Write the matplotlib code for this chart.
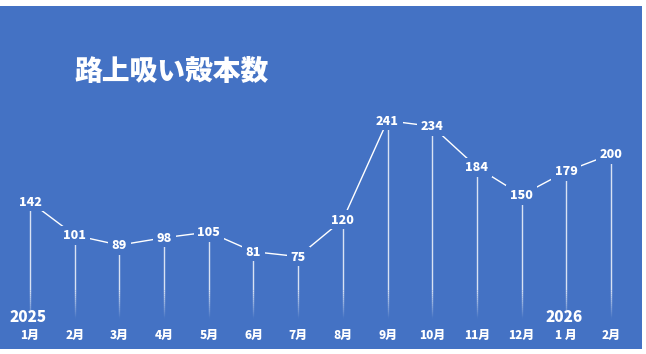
import numpy as np
import matplotlib
matplotlib.use("Agg")
import matplotlib.pyplot as plt
from matplotlib.collections import LineCollection
from matplotlib.patches import Rectangle
import matplotlib.transforms as mtransforms

plt.rcParams['font.family'] = ['Noto Sans CJK JP', 'DejaVu Sans']

title = "路上吸い殻本数"
months = ["1月", "2月", "3月", "4月", "5月", "6月", "7月",
          "8月", "9月", "10月", "11月", "12月", "1 月", "2月"]
counts = [142, 101, 89, 98, 105, 81, 75, 120, 241, 234, 184, 150, 179, 200]
years = ["2025", "2026"]
year_start_idx = [0, 12]

BG = "#4472C4"
FG = "white"

fig = plt.figure(figsize=(6.46, 3.54), dpi=100)
fig.patch.set_facecolor("white")

# blue panel behind everything
fig.patches.append(Rectangle((0, 5 / 354), 642 / 646, 343 / 354,
                             transform=fig.transFigure, facecolor=BG,
                             edgecolor="none", zorder=-10))

ax = fig.add_axes([0, 0, 1, 1])
ax.set_facecolor("none")
ax.set_zorder(1)
ax.axis("off")

step = 44.69
ppu = 0.819
ax.set_xlim(-30 / step, 13 + 35 / step)
ax.set_ylim(-36 / ppu, 318 / ppu)

x = np.arange(len(counts))
y = np.array(counts, dtype=float)

# connecting line
ax.plot(x, y, color=FG, lw=1.0, zorder=2, solid_capstyle="butt")

# drop lines: solid upper part, fading lower part
fade = 34.0
top_alpha = 0.8
ax.vlines(x, fade, y, colors=[(1, 1, 1, top_alpha)], linewidth=1.0, zorder=1)
n = 14
edges = np.linspace(0, fade, n + 1)
segs, cols = [], []
for xi in x:
    for k in range(n):
        segs.append([(xi, edges[k]), (xi, edges[k + 1])])
        cols.append((1, 1, 1, top_alpha * (k + 0.5) / n))
ax.add_collection(LineCollection(segs, colors=cols, linewidths=1.0,
                                 capstyle="butt", zorder=1))

# value labels sitting on the points
for xi, yi, v in zip(x, y, counts):
    ax.text(xi, yi, str(v), ha="center", va="center", color=FG,
            fontsize=9, fontweight="heavy", zorder=3,
            bbox=dict(boxstyle="square,pad=0.3", facecolor=BG, edgecolor="none"))

# month labels and year labels
trans = mtransforms.blended_transform_factory(ax.transData, fig.transFigure)
for xi, m in zip(x, months):
    ax.text(xi, 19 / 354, m, ha="center", va="center", color=FG,
            fontsize=8.5, fontweight="heavy", transform=trans)
for idx, yr in zip(year_start_idx, years):
    ax.text(x[idx] - 0.05, 36 / 354, yr, ha="center", va="center", color=FG,
            fontsize=11, fontweight="heavy", transform=trans)

fig.text(172 / 646, 1 - 72 / 354, title, ha="center", va="center",
         color=FG, fontsize=20, fontweight="black")

fig.savefig("out.png", dpi=100, facecolor=fig.get_facecolor())
